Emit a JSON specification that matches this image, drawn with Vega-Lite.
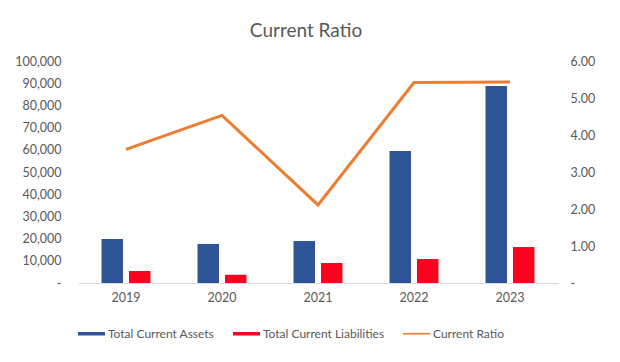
{
  "$schema": "https://vega.github.io/schema/vega-lite/v6.json",
  "autosize": {"type": "none"},
  "width": 480,
  "height": 222,
  "padding": {"left": 78, "top": 61, "right": 62, "bottom": 79},
  "background": "white",
  "title": {"text": "Current Ratio", "fontSize": 19, "font": "Lato", "fontWeight": "normal", "color": "#595959", "offset": 14, "dx": -12},
  "data": {"values": [
    {"year": "2019", "Total Current Assets": 19800, "Total Current Liabilities": 5400, "Current Ratio": 3.61},
    {"year": "2020", "Total Current Assets": 17600, "Total Current Liabilities": 3700, "Current Ratio": 4.53},
    {"year": "2021", "Total Current Assets": 18900, "Total Current Liabilities": 9000, "Current Ratio": 2.11},
    {"year": "2022", "Total Current Assets": 59500, "Total Current Liabilities": 10800, "Current Ratio": 5.42},
    {"year": "2023", "Total Current Assets": 88700, "Total Current Liabilities": 16200, "Current Ratio": 5.43}
  ]},
  "config": {
    "font": "Lato",
    "view": {"stroke": null},
    "axis": {"grid": false, "ticks": false, "labelColor": "#595959", "labelFontSize": 12.5, "labelFont": "Lato", "title": null, "domain": false}
  },
  "encoding": {
    "x": {"field": "year", "type": "ordinal", "scale": {"paddingInner": 0.49, "paddingOuter": 0.245},
      "axis": {"labelAngle": 0, "domain": true, "domainColor": "#d9d9d9", "labelPadding": 8}}
  },
  "layer": [
    {
      "transform": [{"fold": ["Total Current Assets", "Total Current Liabilities"], "as": ["series", "value"]}],
      "mark": {"type": "bar"},
      "encoding": {
        "xOffset": {"field": "series", "type": "nominal", "sort": ["Total Current Assets", "Total Current Liabilities"], "scale": {"paddingInner": 0.22, "paddingOuter": 0}},
        "y": {"field": "value", "type": "quantitative", "scale": {"domain": [0, 100000]},
          "axis": {"values": [0, 10000, 20000, 30000, 40000, 50000, 60000, 70000, 80000, 90000, 100000], "labelExpr": "datum.value === 0 ? '-\u00a0\u00a0\u00a0' : format(datum.value, ',')", "labelPadding": 17}},
        "color": {"field": "series", "type": "nominal",
          "scale": {"domain": ["Total Current Assets", "Total Current Liabilities", "Current Ratio"], "range": ["#2F5597", "#FF0020", "#ED7D31"]},
          "legend": {"orient": "bottom", "direction": "horizontal", "title": null, "labelFontSize": 12, "labelColor": "#595959", "labelFont": "Lato",
            "symbolType": "M-1,-0.13H1V0.13H-1Z", "symbolSize": 729, "symbolStrokeWidth": 0, "columnPadding": 18, "labelOffset": 3, "offset": 16,
            "encode": {"symbols": {"update": {
              "fill": {"signal": "scale('color', datum.value)"},
              "shape": {"signal": "datum.value == 'Current Ratio' ? 'M-1,-0.06H1V0.06H-1Z' : 'M-1,-0.13H1V0.13H-1Z'"}
            }}}}
        }
      }
    },
    {
      "mark": {"type": "line", "strokeWidth": 3},
      "encoding": {
        "y": {"field": "Current Ratio", "type": "quantitative", "scale": {"domain": [0, 6]},
          "axis": {"orient": "right", "values": [0, 1, 2, 3, 4, 5, 6], "labelExpr": "datum.value === 0 ? '\u00a0-' : format(datum.value, '.2f')", "labelPadding": 12}},
        "color": {"datum": "Current Ratio"}
      }
    }
  ],
  "resolve": {"scale": {"y": "independent"}}
}
